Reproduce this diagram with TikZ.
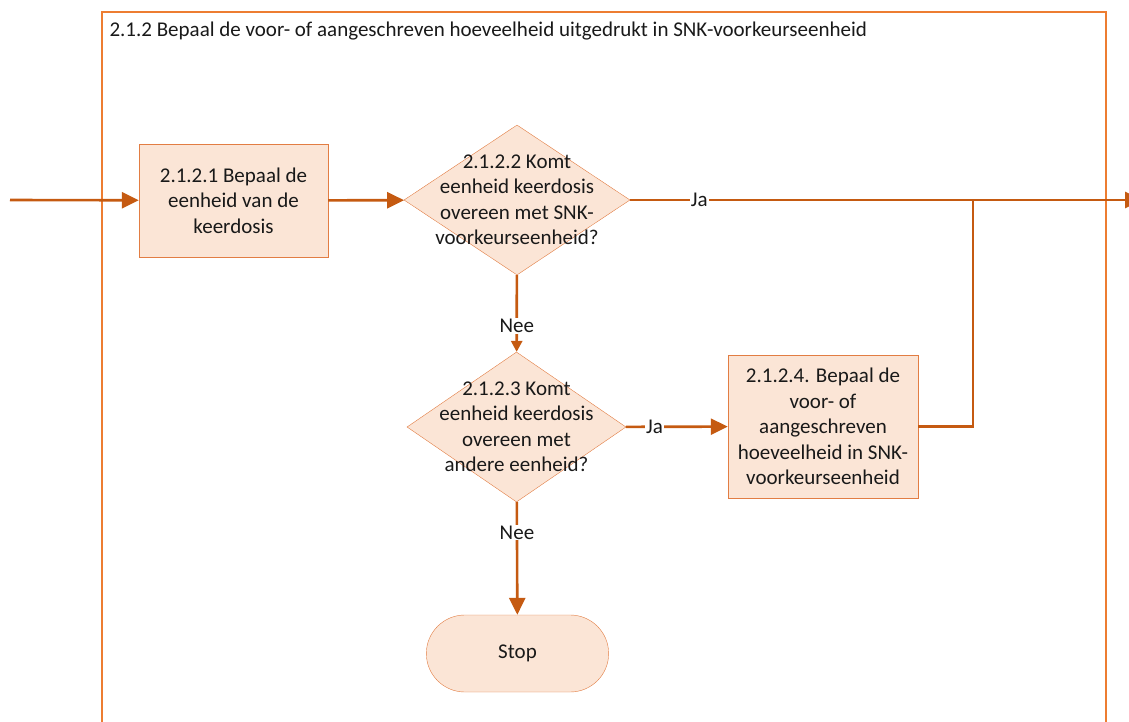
\documentclass[tikz,border=0pt]{standalone}
\usepackage{fontspec}
\setmainfont{Carlito}
\usetikzlibrary{shapes.geometric,shapes.misc,arrows.meta}
\definecolor{kaderor}{HTML}{ED7D31}
\definecolor{lijnor}{HTML}{C55A11}
\definecolor{randor}{HTML}{E27D43}
\definecolor{vulor}{HTML}{FBE5D6}
\begin{document}
\begin{tikzpicture}[x=1pt,y=-1pt,
  every node/.style={font=\fontsize{21}{25.5}\selectfont,text=black!90},
  taak/.style={draw=randor,fill=vulor,align=center,minimum width=189pt,minimum height=113pt,inner sep=2pt},
  keuze/.style={diamond,draw=randor,fill=vulor,minimum width=226pt,minimum height=150pt,inner sep=0pt},
  eind/.style={rounded rectangle,draw=randor,fill=vulor,minimum width=189pt,minimum height=77pt},
  pijl/.style={draw=lijnor,line width=2.6pt,-{Triangle[length=17pt,width=16pt]}},
  pijlklein/.style={draw=lijnor,line width=2.6pt,-{Triangle[length=11pt,width=11pt]}},
  lijn/.style={draw=lijnor,line width=2.6pt},
  lbl/.style={fill=white,inner sep=1pt}]
\useasboundingbox (0,0) rectangle (1129,722);
% kader
\draw[kaderor,line width=1.6pt] (102,722) -- (102,12) -- (1106,12) -- (1106,722);
\node[anchor=base west] (titel) at (106,37) {2.1.2 Bepaal de voor- of aangeschreven hoeveelheid uitgedrukt in SNK-voorkeurseenheid};
% stappen
\node[taak] (b1) at (233.5,200.5) {2.1.2.1 Bepaal de\\eenheid van de\\keerdosis};
\node[keuze,label={[align=center]center:2.1.2.2 Komt\\eenheid keerdosis\\overeen met SNK-\\voorkeurseenheid?}] (d1) at (517,200) {};
\node[keuze,minimum width=219pt,label={[align=center]center:2.1.2.3 Komt\\eenheid keerdosis\\overeen met\\andere eenheid?}] (d2) at (516.5,427) {};
\node[taak,minimum width=190pt,minimum height=143pt] (b4) at (823,426.5) {2.1.2.4. Bepaal de\\voor- of\\aangeschreven\\hoeveelheid in SNK-\\voorkeurseenheid};
\node[eind] (stop) at (517.5,653.5) {Stop};
\coordinate (in) at (10,200);
\coordinate (uit) at (1142,200);
\coordinate (samen) at (973,200);
% verbindingen
\draw[pijl] (in) -- (b1);
\draw[pijl] (b1) -- (d1);
\draw[pijl] (d1) -- node[lbl,pos=0.135] {Ja} (uit);
\draw[pijlklein] (d1) -- node[lbl,pos=0.66] {Nee} (d2);
\draw[pijl] (d2) -- node[lbl,pos=0.28] {Ja} (b4);
\draw[pijl] (d2) -- node[lbl,pos=0.27] {Nee} (stop);
\draw[lijn] (b4) -| (samen);
\end{tikzpicture}
\end{document}
